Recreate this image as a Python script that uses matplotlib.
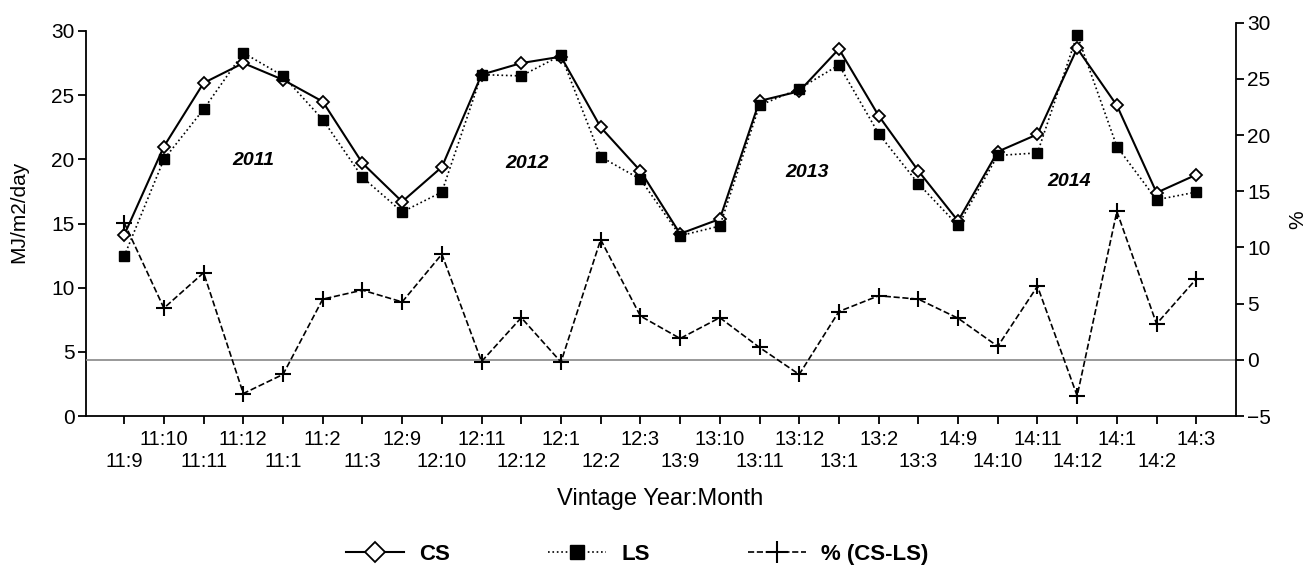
import matplotlib
matplotlib.use("Agg")
import matplotlib.pyplot as plt

plt.rcParams['font.family'] = ['Liberation Sans', 'DejaVu Sans']

# vintage year:month labels
months = ['11:9', '11:10', '11:11', '11:12', '11:1', '11:2', '11:3',
          '12:9', '12:10', '12:11', '12:12', '12:1', '12:2', '12:3',
          '13:9', '13:10', '13:11', '13:12', '13:1', '13:2', '13:3',
          '14:9', '14:10', '14:11', '14:12', '14:1', '14:2', '14:3']

# solar exposure MJ/m2/day
cs = [14.1, 21.0, 25.95, 27.5, 26.2, 24.5, 19.7,
      16.7, 19.4, 26.6, 27.5, 28.0, 22.5, 19.1,
      14.2, 15.35, 24.55, 25.3, 28.6, 23.4, 19.1,
      15.2, 20.6, 21.95, 28.65, 24.2, 17.4, 18.8]
ls = [12.45, 20.0, 23.9, 28.3, 26.5, 23.1, 18.6,
      15.9, 17.45, 26.6, 26.5, 28.1, 20.2, 18.45,
      14.05, 14.8, 24.2, 25.5, 27.35, 22.0, 18.1,
      14.85, 20.3, 20.5, 29.7, 21.0, 16.85, 17.45]
# % difference (CS-LS)
pct = [12.2, 4.6, 7.75, -3.0, -1.3, 5.4, 6.2,
       5.15, 9.4, -0.15, 3.75, -0.2, 10.7, 3.9,
       1.9, 3.75, 1.1, -1.3, 4.3, 5.7, 5.4,
       3.7, 1.2, 6.55, -3.2, 13.2, 3.2, 7.2]

years = ['2011', '2012', '2013', '2014']
year_x = [3.25, 10.15, 17.2, 23.8]
year_y = [19.9, 19.7, 19.0, 18.3]

x = list(range(len(months)))

fig = plt.figure(figsize=(13.06, 5.66), dpi=100)
ax = fig.add_axes([0.0656, 0.265, 0.8808, 0.6949])
ax2 = ax.twinx()

l1, = ax.plot(x, cs, '-', color='black', lw=1.5, marker='D', ms=6.5,
              mfc='white', mec='black', mew=1.3, label='CS')
l2, = ax.plot(x, ls, ':', color='black', lw=1.2, marker='s', ms=7,
              mfc='black', mec='black', label='LS')
ax2.axhline(0, color='#888888', lw=1.2, zorder=0)
l3, = ax2.plot(x, pct, '--', color='black', lw=1.2, marker='+', ms=11,
               mew=1.5, label='% (CS-LS)')

for yr, xx, yy in zip(years, year_x, year_y):
    ax.text(xx, yy, yr, fontsize=14, fontweight='bold', fontstyle='italic',
            ha='center', va='center')

ax.set_xlim(-0.97, 28)
ax.set_ylim(0, 30 * 393.3 / 385)
ax.spines['left'].set_bounds(0, 30)
ax.set_yticks([0, 5, 10, 15, 20, 25, 30])
ax2.set_ylim(-5, 30)
ax2.set_yticks([-5, 0, 5, 10, 15, 20, 25, 30])

# staggered month labels: odd positions on the upper row, even on the lower
ax.set_xticks(x[1::2])
ax.set_xticklabels(months[1::2])
ax.set_xticks(x[0::2], minor=True)
ax.set_xticklabels(months[0::2], minor=True)

for a in (ax, ax2):
    a.spines['top'].set_visible(False)
    for s in a.spines.values():
        s.set_linewidth(1.3)
    a.tick_params(direction='out', length=6, width=1.3, labelsize=15, pad=2)
ax.spines['right'].set_visible(False)
ax2.spines['left'].set_visible(False)
ax2.spines['bottom'].set_visible(False)
ax.tick_params(axis='x', which='major', labelsize=14.5, pad=4)
ax.tick_params(axis='x', which='minor', direction='out', length=6, width=1.3,
               labelsize=14.5, pad=20)

ax.set_ylabel('MJ/m2/day', fontsize=15)
ax.yaxis.set_label_coords(-0.05, 0.52)
ax2.set_ylabel('%', fontsize=15)
ax2.yaxis.set_label_coords(1.045, 0.5)

fig.text(660 / 1306, 1 - 499 / 566, 'Vintage Year:Month', fontsize=17,
         ha='center', va='center')

fig.legend(handles=[l1, l2, l3], loc='center', ncol=3, frameon=False,
           bbox_to_anchor=(0.488, 0.021), prop={'weight': 'bold', 'size': 16},
           markerscale=1.5, handlelength=2.6, handletextpad=0.7,
           columnspacing=4.4)

fig.savefig('out.png', dpi=100)
